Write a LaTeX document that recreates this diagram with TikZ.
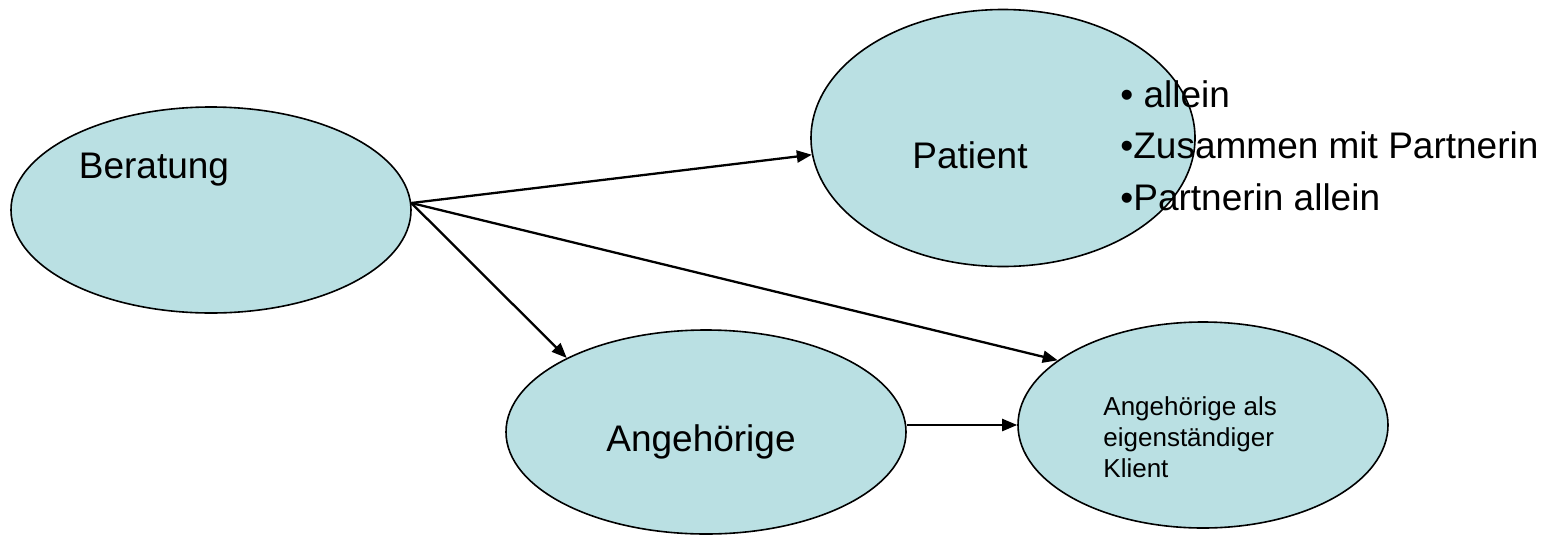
\documentclass[tikz,border=0pt]{standalone}
\usepackage{fontspec}
\setmainfont{Liberation Sans}
\usetikzlibrary{shapes.geometric,arrows.meta}
\definecolor{bubble}{RGB}{186,224,227}
\tikzset{
  x=0.5pt,y=-0.5pt,
  bubble/.style={ellipse,draw=black,line width=0.8pt,fill=bubble,inner sep=0pt},
  big/.style={font=\fontsize{18.5}{22}\selectfont,inner sep=0pt},
  small/.style={font=\fontsize{13}{15.5}\selectfont,inner sep=0pt,align=left},
  conn/.style={line width=1.15pt,-{Triangle[length=7.5pt,width=6pt]}}
}
\begin{document}
\begin{tikzpicture}
\useasboundingbox (0,0) rectangle (1546,536);
% ellipses
\node[bubble,minimum width=200pt,minimum height=103pt] (ber) at (211,210) {};
\node[bubble,minimum width=192pt,minimum height=128.5pt] (pat) at (1003,138) {};
\node[bubble,minimum width=200pt,minimum height=102pt] (ang) at (706,432) {};
\node[bubble,minimum width=185pt,minimum height=103pt] (kl) at (1203,425) {};
% labels
\node[big] (tber) at (154,170) {Beratung};
\node[big] (tpat) at (970,155) {Patient};
\node[big] (tang) at (701,442) {Angehörige};
\node[small,anchor=west] (tkl) at (1103,437) {Angehörige als\\eigenständiger\\Klient};
\node[big,anchor=west] (b1) at (1120,94) {• allein};
\node[big,anchor=west] (b2) at (1120,145) {•Zusammen mit Partnerin};
\node[big,anchor=west] (b3) at (1120,197) {•Partnerin allein};
% connectors
\draw[conn] (ber.2) -- (pat.185);
\draw[conn] (ber.2) -- (ang.152);
\draw[conn] (ber.2) -- (kl.156);
\draw[conn] (ang.east |- kl.west) -- (kl.west);
\end{tikzpicture}
\end{document}
